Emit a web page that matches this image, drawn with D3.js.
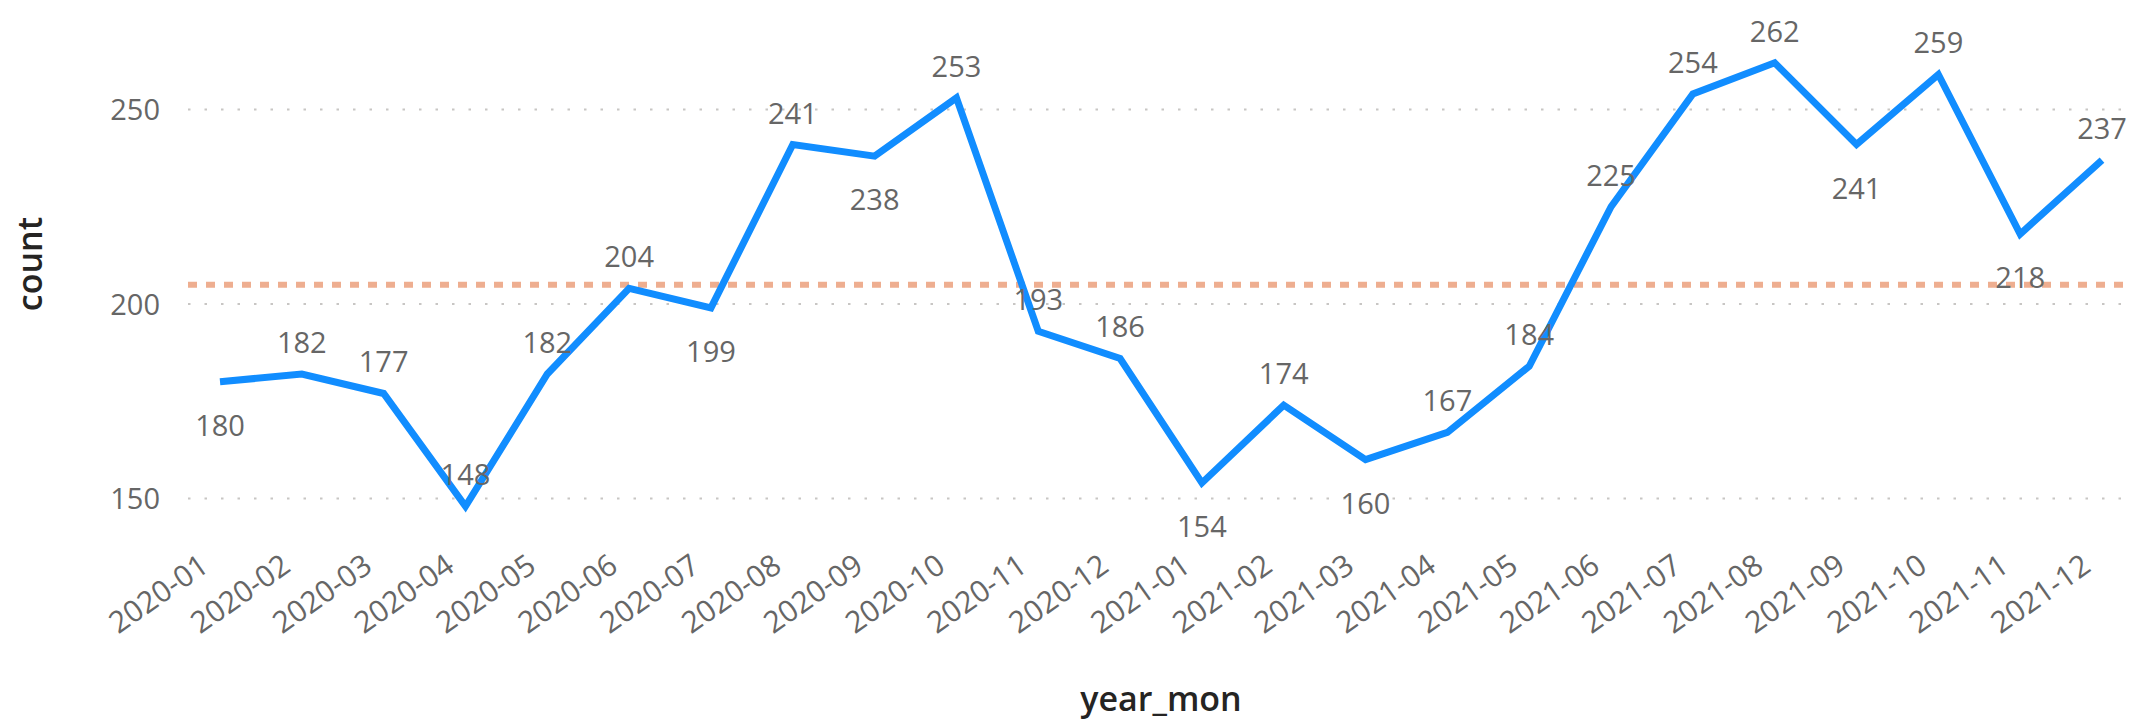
<!DOCTYPE html>
<html>
<head>
<meta charset="utf-8">
<script src="https://cdn.jsdelivr.net/npm/d3@7"></script>
<style>
  html, body { margin: 0; padding: 0; background: #fff; }
  svg { display: block; font-family: "Segoe UI", "Open Sans", sans-serif; }
</style>
</head>
<body>
<svg id="chart" width="2129" height="722"></svg>
<script>
// months on the x axis
const months = [
  "2020-01", "2020-02", "2020-03", "2020-04", "2020-05", "2020-06",
  "2020-07", "2020-08", "2020-09", "2020-10", "2020-11", "2020-12",
  "2021-01", "2021-02", "2021-03", "2021-04", "2021-05", "2021-06",
  "2021-07", "2021-08", "2021-09", "2021-10", "2021-11", "2021-12"
];

// count per month
const counts = [
  180, 182, 177, 148, 182, 204, 199, 241, 238, 253, 193, 186,
  154, 174, 160, 167, 184, 225, 254, 262, 241, 259, 218, 237
];

// y ticks
const yTicks = [150, 200, 250];

// months whose data label sits under the point
const labelBelow = ["2020-01", "2020-07", "2020-09", "2021-01", "2021-03", "2021-09", "2021-11"];

const svg = d3.select("#chart");

// scales
const x = d3.scalePoint().domain(months).range([220, 2102]);
const y = d3.scaleLinear().domain([150, 250]).range([498.5, 109.5]);

// dotted gridlines
svg.append("g")
  .selectAll("line")
  .data(yTicks)
  .join("line")
  .attr("x1", 188)
  .attr("x2", 2129)
  .attr("y1", (d) => y(d))
  .attr("y2", (d) => y(d))
  .attr("stroke", "#c8c6c4")
  .attr("stroke-width", 2)
  .attr("stroke-dasharray", "2.5 14");

// y axis labels
const yAxis = svg.append("g")
  .attr("transform", "translate(160,0)")
  .call(d3.axisLeft(y).tickValues(yTicks).tickSize(0).tickPadding(0));
yAxis.select(".domain").remove();
yAxis.selectAll("text")
  .attr("font-size", 29)
  .attr("font-family", "'Segoe UI', 'Open Sans', sans-serif")
  .attr("fill", "#666666")
  .attr("dy", "0.35em");

// x axis labels, rotated
const xAxis = svg.append("g")
  .attr("transform", "translate(0,545)")
  .call(d3.axisBottom(x).tickSize(0).tickPadding(0));
xAxis.select(".domain").remove();
xAxis.selectAll("text")
  .attr("font-size", 30)
  .attr("font-family", "'Segoe UI', 'Open Sans', sans-serif")
  .attr("fill", "#666666")
  .attr("text-anchor", "end")
  .attr("dy", 0)
  .attr("transform", "translate(-10,25) rotate(-35)");

// average line
const avg = d3.mean(counts);
svg.append("line")
  .attr("x1", 188)
  .attr("x2", 2129)
  .attr("y1", y(avg))
  .attr("y2", y(avg))
  .attr("stroke", "#eeae90")
  .attr("stroke-width", 6)
  .attr("stroke-dasharray", "9 9");

// series line
const line = d3.line()
  .x((d, i) => x(months[i]))
  .y((d) => y(d));

svg.append("path")
  .datum(counts)
  .attr("d", line)
  .attr("fill", "none")
  .attr("stroke", "#118dff")
  .attr("stroke-width", 7)
  .attr("stroke-linejoin", "miter");

// data labels
svg.append("g")
  .selectAll("text")
  .data(counts)
  .join("text")
  .attr("x", (d, i) => x(months[i]))
  .attr("y", (d, i) => labelBelow.includes(months[i]) ? y(d) + 54 : y(d) - 21)
  .attr("text-anchor", "middle")
  .attr("font-size", 29)
  .attr("fill", "#666666")
  .text((d) => d);

// axis titles
svg.append("text")
  .attr("transform", "translate(42,264) rotate(-90)")
  .attr("text-anchor", "middle")
  .attr("font-size", 34)
  .attr("font-weight", 600)
  .attr("fill", "#252423")
  .text("count");

svg.append("text")
  .attr("x", 1161)
  .attr("y", 711)
  .attr("text-anchor", "middle")
  .attr("font-size", 34)
  .attr("font-weight", 600)
  .attr("fill", "#252423")
  .text("year_mon");
</script>
</body>
</html>
